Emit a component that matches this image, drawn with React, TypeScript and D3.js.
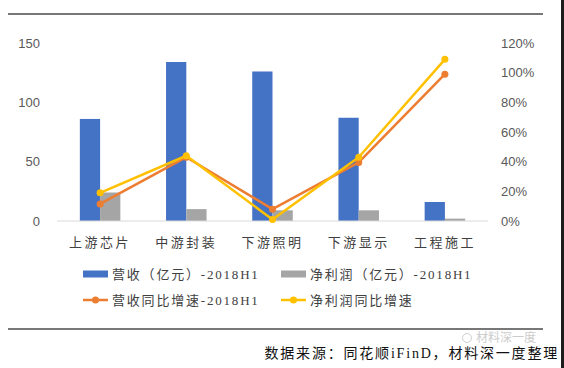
import * as d3 from "d3";
import { useEffect, useRef } from "react";

const categories = ["上游芯片", "中游封装", "下游照明", "下游显示", "工程施工"];
const revenue = [86, 134, 126, 87, 16];
const profit = [24, 10, 9, 9, 2];
const revenueGrowth = [11.5, 43, 8, 39.5, 99];
const profitGrowth = [19, 44, 1, 43, 109];
const leftTicks = [0, 50, 100, 150];
const rightTicks = [0, 20, 40, 60, 80, 100, 120];

const CJK = "'Noto Sans CJK SC', sans-serif";
const NUM = "'Liberation Sans', 'DejaVu Sans', sans-serif";
const SERIF = "'Liberation Serif', 'Noto Sans CJK SC', serif";

export default function App() {
  const ref = useRef<SVGSVGElement>(null);

  useEffect(() => {
    const width = 564;
    const height = 368;
    const margin = { top: 43, right: 76, bottom: 148, left: 57 };

    const svg = d3.select(ref.current).attr("width", width).attr("height", height);
    svg.selectAll("*").remove();

    svg.append("rect").attr("width", width).attr("height", height).attr("fill", "#ffffff");

    // top and bottom rules + dark right edge
    svg.append("line").attr("x1", 8).attr("x2", 543).attr("y1", 14).attr("y2", 14)
      .attr("stroke", "#777").attr("stroke-width", 2);
    svg.append("line").attr("x1", 8).attr("x2", 543).attr("y1", 329).attr("y2", 329)
      .attr("stroke", "#777").attr("stroke-width", 2);
    svg.append("rect").attr("x", 561).attr("y", 0).attr("width", 3).attr("height", height).attr("fill", "#1c1c1c");

    const x = d3.scaleBand()
      .domain(categories)
      .range([margin.left, width - margin.right])
      .paddingInner(0.53)
      .paddingOuter(0.265);

    const y = d3.scaleLinear().domain([0, 150]).range([height - margin.bottom + 1, margin.top]);
    const y2 = d3.scaleLinear().domain([0, 120]).range([height - margin.bottom + 1, margin.top]);
    const bw = x.bandwidth() / 2;

    // left axis labels
    svg.append("g").selectAll("text").data(leftTicks).join("text")
      .attr("x", 40).attr("y", d => y(d)).attr("dy", "0.35em")
      .attr("text-anchor", "end").attr("font-family", NUM).attr("font-size", 13)
      .attr("fill", "#595959").text(d => d);

    // right axis labels
    svg.append("g").selectAll("text").data(rightTicks).join("text")
      .attr("x", 501).attr("y", d => y2(d)).attr("dy", "0.35em")
      .attr("text-anchor", "start").attr("font-family", NUM).attr("font-size", 13)
      .attr("fill", "#595959").text(d => d + "%");

    // bars
    svg.append("g").selectAll("rect").data(categories).join("rect")
      .attr("x", d => x(d)!).attr("y", (d, i) => y(revenue[i]))
      .attr("width", bw).attr("height", (d, i) => y(0) - y(revenue[i]))
      .attr("fill", "#4472C4");
    svg.append("g").selectAll("rect").data(categories).join("rect")
      .attr("x", d => x(d)! + bw).attr("y", (d, i) => y(profit[i]))
      .attr("width", bw).attr("height", (d, i) => y(0) - y(profit[i]))
      .attr("fill", "#A5A5A5");

    // baseline
    svg.append("line").attr("x1", margin.left).attr("x2", width - margin.right)
      .attr("y1", y(0)).attr("y2", y(0)).attr("stroke", "#d9d9d9").attr("stroke-width", 1);

    // category labels
    svg.append("g").selectAll("text").data(categories).join("text")
      .attr("x", d => x(d)! + bw).attr("y", 247)
      .attr("text-anchor", "middle").attr("font-family", CJK).attr("font-size", 13)
      .attr("letter-spacing", 2.5).attr("fill", "#404040").text(d => d);

    // lines
    const cx = (d: string) => x(d)! + bw;
    const drawLine = (vals: number[], color: string) => {
      const line = d3.line<number>().x((v, i) => cx(categories[i])).y(v => y2(v));
      svg.append("path").datum(vals).attr("d", line).attr("fill", "none")
        .attr("stroke", color).attr("stroke-width", 2.5).attr("stroke-linejoin", "round");
      svg.append("g").selectAll("circle").data(vals).join("circle")
        .attr("cx", (v, i) => cx(categories[i])).attr("cy", v => y2(v)).attr("r", 3.5)
        .attr("fill", color);
    };
    drawLine(revenueGrowth, "#ED7D31");
    drawLine(profitGrowth, "#FFC000");

    // legend
    const legend = [
      { label: "营收（亿元）-2018H1", color: "#4472C4", type: "bar", lx: 83, ly: 274 },
      { label: "净利润（亿元）-2018H1", color: "#A5A5A5", type: "bar", lx: 281, ly: 274 },
      { label: "营收同比增速-2018H1", color: "#ED7D31", type: "line", lx: 83, ly: 300 },
      { label: "净利润同比增速", color: "#FFC000", type: "line", lx: 281, ly: 300 },
    ];
    const lg = svg.append("g").selectAll("g").data(legend).join("g")
      .attr("transform", d => `translate(${d.lx},${d.ly})`);
    lg.filter(d => d.type === "bar").append("rect")
      .attr("x", 0).attr("y", -3.5).attr("width", 25).attr("height", 7).attr("fill", d => d.color);
    lg.filter(d => d.type === "line").append("line")
      .attr("x1", 0).attr("x2", 25).attr("y1", 0).attr("y2", 0)
      .attr("stroke", d => d.color).attr("stroke-width", 2.5);
    lg.filter(d => d.type === "line").append("circle")
      .attr("cx", 12.5).attr("cy", 0).attr("r", 3.5).attr("fill", d => d.color);
    lg.append("text").attr("x", 29).attr("y", 0).attr("dy", "0.35em")
      .attr("font-family", SERIF).attr("font-size", 13).attr("letter-spacing", 1.8)
      .attr("fill", "#404040").text(d => d.label);

    // watermark
    svg.append("text").attr("x", 476).attr("y", 342)
      .attr("font-family", CJK).attr("font-size", 12).attr("fill", "#cccccc")
      .text("材料深一度");
    svg.append("circle").attr("cx", 467).attr("cy", 338).attr("r", 4.5)
      .attr("fill", "none").attr("stroke", "#d0d0d0").attr("stroke-width", 1);

    // source
    svg.append("text").attr("x", 559).attr("y", 358).attr("text-anchor", "end")
      .attr("font-family", SERIF).attr("font-size", 14).attr("fill", "#111")
      .attr("letter-spacing", 1.8)
      .text("数据来源：同花顺iFinD，材料深一度整理");
  }, []);

  return (
    <svg ref={ref} style={{ position: "absolute", left: 0, top: 0, display: "block" }}></svg>
  );
}
